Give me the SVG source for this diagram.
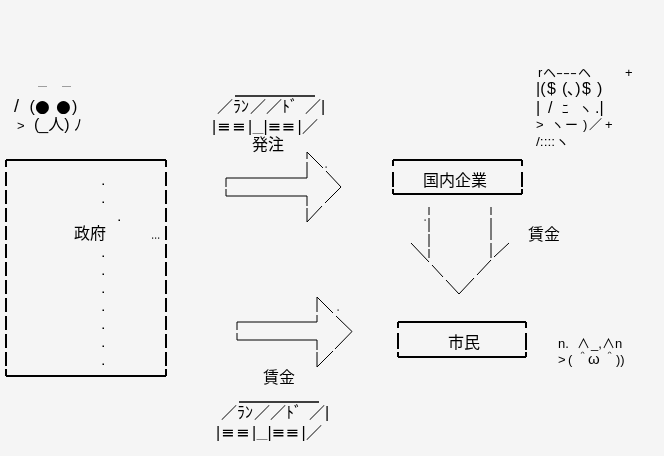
<svg xmlns="http://www.w3.org/2000/svg" width="664" height="456" viewBox="0 0 664 456">
<style>
.aa{font-family:"Liberation Sans","Noto Sans CJK JP",sans-serif;font-size:16px;fill:#000}
.s{font-size:13px}
.eq{font-family:"DejaVu Sans",sans-serif;font-size:16px}
.bul{font-family:"DejaVu Sans",sans-serif;font-size:17px}
.lbl{font-family:"Noto Sans CJK JP","Noto Sans",sans-serif;font-size:16px;fill:#000}
.box{stroke:#000;stroke-width:2;fill:none}
.arr{stroke:#000;stroke-width:1;fill:none}
.dot{fill:#000}
</style>
<defs>
<filter id="gray" x="-5%" y="-20%" width="110%" height="140%"><feColorMatrix type="saturate" values="0"/></filter>
<g id="crate">
<line x1="235" y1="96" x2="315" y2="96" stroke="#000" stroke-width="1.3"/>
<text class="aa" y="112"><tspan x="217">／</tspan><tspan x="233">ﾗﾝ</tspan><tspan x="250">／</tspan><tspan x="266">／</tspan><tspan x="282">ﾄﾞ</tspan><tspan x="305">／</tspan><tspan x="321">|</tspan></text>
<text class="aa" y="132"><tspan x="212">|</tspan><tspan x="217" class="eq">≡</tspan><tspan x="232" class="eq">≡</tspan><tspan x="248">|</tspan><tspan x="252.5" style="font-size:11px">＿</tspan><tspan x="263.5">|</tspan><tspan x="267.5" class="eq">≡</tspan><tspan x="281.5" class="eq">≡</tspan><tspan x="297.5">|</tspan><tspan x="302">／</tspan></text>
</g>
</defs>
<rect width="664" height="456" fill="#f5f5f5"/>

<g filter="url(#gray)">
<g id="face-gov">
<text class="aa" y="95" style="font-size:9px"><tspan x="38">￣</tspan><tspan x="62">￣</tspan></text>
<text class="aa" y="112"><tspan x="14" style="font-size:18px">/</tspan><tspan x="29.5">(</tspan><tspan x="35" class="bul">●</tspan><tspan x="56" class="bul">●</tspan><tspan x="72">)</tspan></text>
<text class="aa" y="130"><tspan x="17" class="s">&gt;</tspan><tspan x="34">(_人)</tspan><tspan x="74">ﾉ</tspan></text>
</g>

<g id="crate-top">
<use href="#crate"/>
</g>

<g id="crate-bottom">
<use href="#crate" transform="translate(4,306)"/>
</g>

<g id="face-money">
<text class="aa s" y="77"><tspan x="538">r</tspan><tspan x="543">ヘ</tspan></text>
<text class="aa s" x="556" y="77" textLength="21" lengthAdjust="spacingAndGlyphs">‐‐‐</text>
<text class="aa s" y="77"><tspan x="578">ヘ</tspan><tspan x="625">+</tspan></text>
<text class="aa" y="94"><tspan x="536">|(</tspan><tspan x="547">$</tspan><tspan x="562">(､)</tspan><tspan x="582">$</tspan><tspan x="597">)</tspan></text>
<text class="aa" y="113"><tspan x="536">|</tspan><tspan x="548">/</tspan><tspan x="562" class="s">ﾆ</tspan><tspan x="579" class="s">ヽ</tspan><tspan x="595">.|</tspan></text>
<text class="aa s" y="129"><tspan x="536">&gt;</tspan><tspan x="551">ヽ</tspan><tspan x="565">ー</tspan><tspan x="583">)</tspan><tspan x="589">／</tspan><tspan x="605">+</tspan></text>
<text class="aa s" x="536" y="146" textLength="33" lengthAdjust="spacingAndGlyphs">/::::ヽ</text>
</g>

<g id="face-cat">
<text class="aa s" y="348"><tspan x="558">n.</tspan><tspan x="577">∧</tspan><tspan x="591">_,</tspan><tspan x="602">∧</tspan><tspan x="615">n</tspan></text>
<text class="aa s" y="364"><tspan x="558">&gt;</tspan><tspan x="568">(</tspan><tspan x="576">＾</tspan><tspan x="588" style="font-size:15px">ω</tspan><tspan x="603">＾</tspan><tspan x="616">))</tspan></text>
</g>

<g id="node-gov">
<path class="box" d="M6 160 H166 M6 376 H166 M6 160 V167 M6 172 V186 M6 190 V204 M6 208 V222 M6 226 V240 M6 244 V258 M6 262 V276 M6 280 V294 M6 298 V312 M6 316 V330 M6 334 V348 M6 352 V366 M6 369 V376 M166 160 V167 M166 172 V186 M166 190 V204 M166 208 V222 M166 226 V240 M166 244 V258 M166 262 V276 M166 280 V294 M166 298 V312 M166 316 V330 M166 334 V348 M166 352 V366 M166 369 V376"/>
<text class="lbl" x="74" y="239">政府</text>
<rect class="dot" x="102.5" y="183.5" width="1.5" height="1.5"/>
<rect class="dot" x="102.5" y="201.5" width="1.5" height="1.5"/>
<rect class="dot" x="118.5" y="219.5" width="1.5" height="1.5"/>
<rect class="dot" x="152" y="237.5" width="1.2" height="1.2"/>
<rect class="dot" x="155" y="237.5" width="1.2" height="1.2"/>
<rect class="dot" x="158" y="237.5" width="1.2" height="1.2"/>
<rect class="dot" x="102.5" y="255.5" width="1.5" height="1.5"/>
<rect class="dot" x="102.5" y="273.5" width="1.5" height="1.5"/>
<rect class="dot" x="102.5" y="291.5" width="1.5" height="1.5"/>
<rect class="dot" x="102.5" y="309.5" width="1.5" height="1.5"/>
<rect class="dot" x="102.5" y="327.5" width="1.5" height="1.5"/>
<rect class="dot" x="102.5" y="345.5" width="1.5" height="1.5"/>
<rect class="dot" x="102.5" y="363.5" width="1.5" height="1.5"/>
</g>

<g id="node-company">
<path class="box" d="M393 160 H522 M393 194 H522 M393 160 V166 M393 172 V187 M393 189 V194 M522 160 V166 M522 172 V187 M522 189 V194"/>
<text class="lbl" x="423" y="186">国内企業</text>
</g>

<g id="node-citizen">
<path class="box" d="M398 322 H526 M398 357 H526 M398 322 V328 M398 333 V349 M398 352 V357 M526 322 V328 M526 333 V350 M526 352 V357"/>
<text class="lbl" x="448" y="348">市民</text>
</g>

<g id="connectors">
<path class="arr" d="M226 178 H307 M226 196 H307 M226 178 V187 M226 189 V196 M307 152 V159 M307 162 V178 M307 196 V206 M307 208 V222 M307 152 L323 168 M326 171 L341 187 L325 203 M322 206 L307 222"/>
<rect class="dot" x="325.5" y="166.5" width="1.2" height="1.2"/>
<path class="arr" d="M429 207 V215 M429 218 V232 M429 234 V247 M429 249 V258 M491 207 V215 M491 218 V240 M491 243 V258 M411 243 L429 262 M432 265 L443 277 M446 280 L459 294 L474 278 M477 275 L491 260 M494 257 L509 243"/>
<rect class="dot" x="424.5" y="219.5" width="1.2" height="1.2"/>
<path class="arr" d="M237 322 H317 M237 340 H317 M237 322 V330 M237 333 V340 M317 297 V312 M317 315 V322 M317 340 V350 M317 352 V367 M317 297 L333 313 M336 316 L352 331.5 L335 349 M333 351 L317 367"/>
<rect class="dot" x="337.5" y="309.5" width="1.2" height="1.2"/>
<text class="lbl" x="252" y="150">発注</text>
<text class="lbl" x="528" y="240">賃金</text>
<text class="lbl" x="263" y="383">賃金</text>
</g>
</g>
</svg>
